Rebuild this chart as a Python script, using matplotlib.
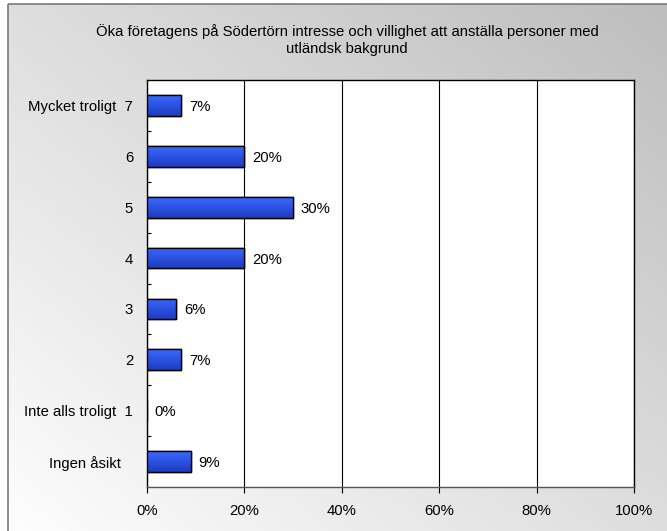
import matplotlib
matplotlib.use("Agg")
import matplotlib.pyplot as plt
import numpy as np
from matplotlib.patches import Rectangle
from matplotlib.ticker import FixedLocator, PercentFormatter

plt.rcParams['font.family'] = ['Liberation Sans', 'DejaVu Sans']

# svarsalternativ, uppifrån och ned
categories = ["Mycket troligt  7", "6", "5", "4", "3", "2",
              "Inte alls troligt  1", "Ingen åsikt   "]
values = [7, 20, 30, 20, 6, 7, 0, 9]   # andel i procent
xticks = [0, 20, 40, 60, 80, 100]
title = ("Öka företagens på Södertörn intresse och villighet att anställa personer med\n"
         "utländsk bakgrund")

FS = 10.7
W, H = 667, 531
fig = plt.figure(figsize=(W / 100, H / 100), dpi=100)
fig.patch.set_facecolor('white')

# bakgrund med diagonal gråtoning inom ramen
bg = fig.add_axes([0, 0, 1, 1], zorder=-5)
bg.axis('off')
gx, gy = np.meshgrid(np.linspace(0, 1, 300), np.linspace(0, 1, 300))
t = (gx + gy) / 2          # 0 nere till vänster, 1 uppe till höger
shade = 1.0 - 0.26 * t
bg.imshow(np.dstack([shade, shade, shade]), extent=(8, W + 20, H + 20, 4),
          origin='lower', aspect='auto', interpolation='bilinear')
bg.add_patch(Rectangle((8, 4), W + 20, H + 20, fill=False, edgecolor='#7a7a7a', lw=1.2))
bg.set_xlim(0, W)
bg.set_ylim(H, 0)

fig.text(347 / W, 1 - 40 / H, title, ha='center', va='center', fontsize=FS,
         linespacing=1.2)

ax = fig.add_axes([147 / W, 1 - 487 / H, 487 / W, 407 / H])
ax.set_facecolor('white')
y = np.arange(len(categories))
bars = ax.barh(y, values, height=0.41, color='#2f58e8', edgecolor='black', lw=1.0, zorder=3)

# vertikal blå toning i staplarna
grad = np.linspace(0, 1, 50).reshape(-1, 1)
cmap = matplotlib.colors.LinearSegmentedColormap.from_list('bar', ['#1e3cc0', '#3a68ff'])
for b in bars:
    if b.get_width() <= 0:
        continue
    x0, y0 = b.get_x(), b.get_y()
    im = ax.imshow(grad, cmap=cmap, extent=(x0, x0 + b.get_width(), y0 + b.get_height(), y0),
                   aspect='auto', zorder=3.5, origin='lower')
    im.set_clip_path(b)
    ax.add_patch(Rectangle((x0, y0), b.get_width(), b.get_height(), fill=False,
                           edgecolor='black', lw=1.0, zorder=4))

for yi, v in zip(y, values):
    ax.text(v + 1.6, yi + 0.03, f"{v}%", va='center', ha='left', fontsize=FS, zorder=5)

ax.set_xlim(0, 100)
ax.set_ylim(len(categories) - 0.5, -0.5)
ax.set_xticks(xticks)
ax.xaxis.set_major_formatter(PercentFormatter(decimals=0))
ax.set_yticks(y)
ax.set_yticklabels(categories)
ax.yaxis.set_minor_locator(FixedLocator(np.arange(0.5, len(categories) - 1, 1)))
ax.tick_params(axis='y', which='major', length=0, pad=10, labelsize=FS)
ax.tick_params(axis='y', which='minor', direction='in', length=3, width=0.8)
ax.tick_params(axis='x', direction='out', length=4, width=0.8, pad=8, labelsize=FS)
ax.grid(axis='x', color='black', lw=0.8, zorder=1)
for s in ax.spines.values():
    s.set_color('black')
    s.set_linewidth(1.0)
ax.spines['bottom'].set_color('#555555')

fig.savefig('out.png', dpi=100)
